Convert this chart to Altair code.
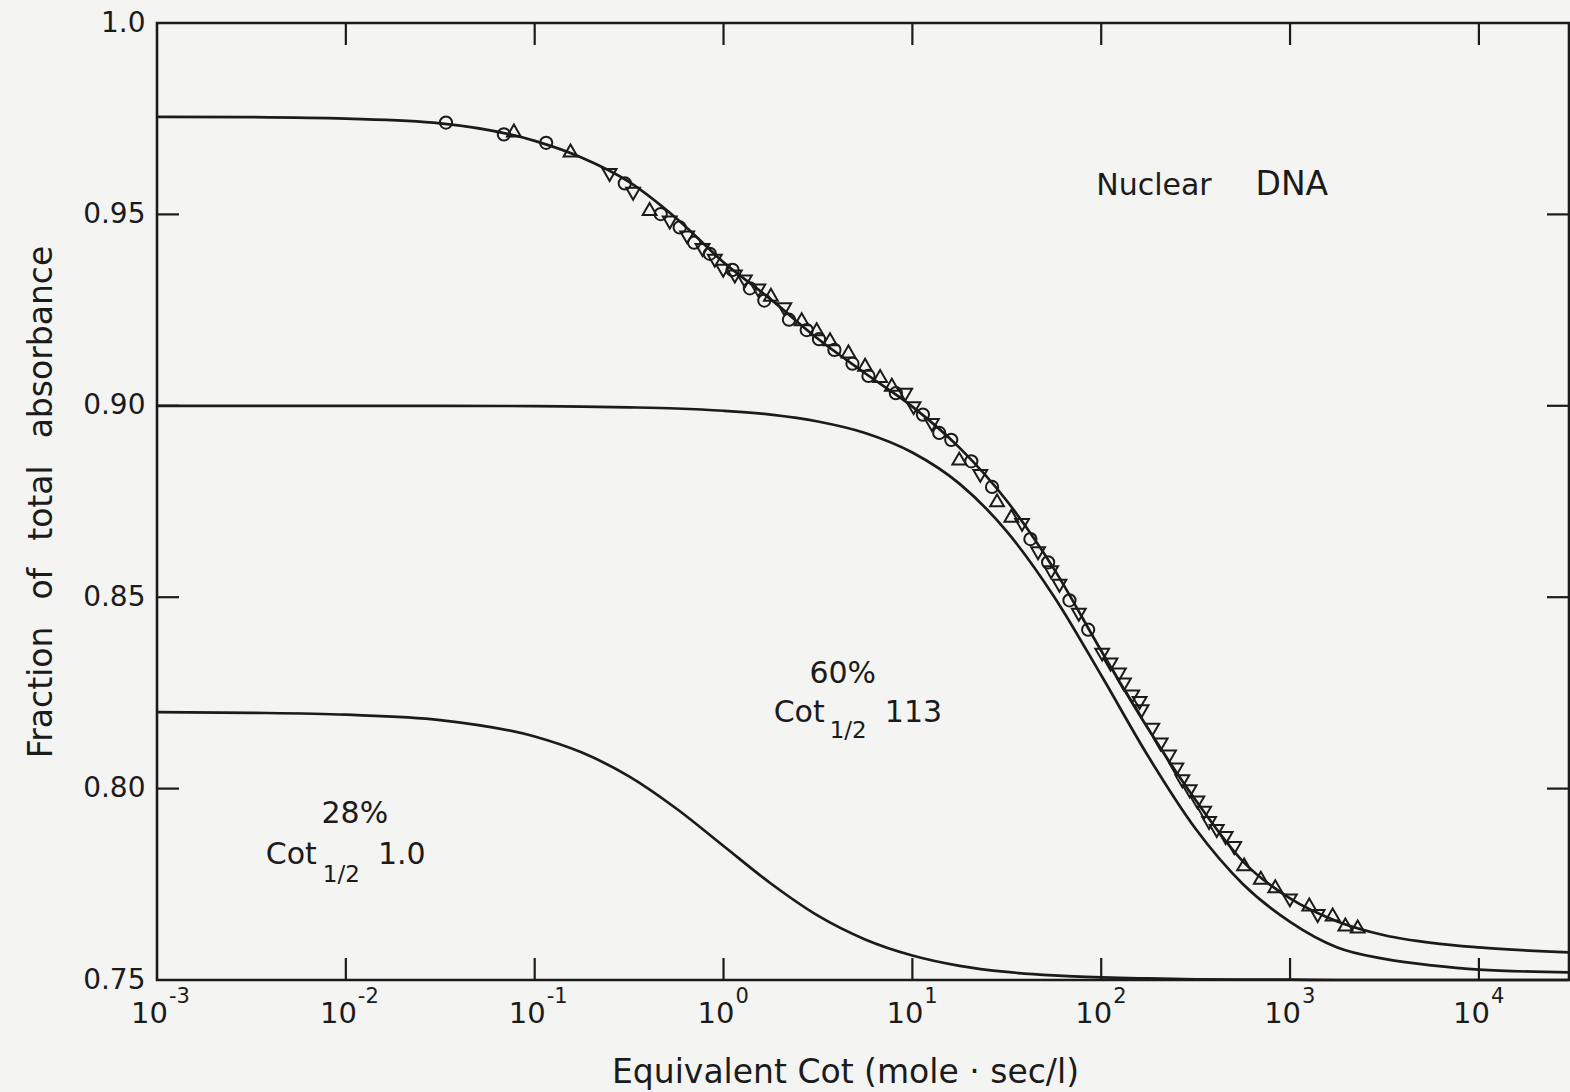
import altair as alt
import pandas as pd

# ---- reassociation curves, read at quarter-decade steps of equivalent Cot ----
cot_grid = [0.001, 0.00316, 0.01, 0.0316, 0.1, 0.178, 0.316, 0.562, 1.0, 1.78,
            3.16, 5.62, 10.0, 17.8, 31.6, 56.2, 100.0, 178.0, 316.0, 562.0,
            1000.0, 1780.0, 3160.0, 5620.0, 10000.0, 30000.0]
total_fit = [0.9755, 0.9754, 0.9750, 0.9738, 0.9692, 0.9648, 0.9585, 0.9490, 0.9375, 0.9278,
             0.9175, 0.9085, 0.8998, 0.8890, 0.8752, 0.8574, 0.8360, 0.8155, 0.7970, 0.7810,
             0.7713, 0.7653, 0.7617, 0.7597, 0.7585, 0.7572]
component_60 = [0.9000, 0.9000, 0.9000, 0.9000, 0.8999, 0.8998, 0.8996, 0.8993, 0.8987, 0.8977,
                0.8959, 0.8929, 0.8878, 0.8796, 0.8672, 0.8502, 0.8296, 0.8083, 0.7895, 0.7751,
                0.7652, 0.7585, 0.7555, 0.7538, 0.7527, 0.7520]
component_28 = [0.8200, 0.8198, 0.8193, 0.8179, 0.8136, 0.8094, 0.8032, 0.7948, 0.7850, 0.7752,
                0.7668, 0.7606, 0.7564, 0.7537, 0.7521, 0.7512, 0.7507, 0.7504, 0.7502, 0.7501,
                0.7501, 0.7500, 0.7500, 0.7500, 0.7500, 0.7500]

# ---- measured points ----
circle_cot = [0.0339, 0.0687, 0.115, 0.300, 0.465, 0.586, 0.699, 0.846, 1.116, 1.379,
              1.644, 2.221, 2.756, 3.203, 3.866, 4.817, 5.855, 8.176, 11.37, 13.88,
              16.06, 20.51, 26.42, 42.17, 52.34, 67.9, 85.3]
circle_frac = [0.9740, 0.9709, 0.9687, 0.9581, 0.9501, 0.9466, 0.9426, 0.9397, 0.9355, 0.9307,
               0.9275, 0.9225, 0.9198, 0.9174, 0.9146, 0.9110, 0.9078, 0.9033, 0.8977, 0.8929,
               0.8911, 0.8855, 0.8788, 0.8652, 0.8591, 0.8492, 0.8415]

up_cot = [0.0776, 0.1548, 0.406, 1.782, 2.593, 3.114, 3.664, 4.586, 5.618, 6.749,
          7.785, 17.71, 28.08, 33.43, 571, 700, 835, 1264, 1681, 1963, 2281]
up_frac = [0.9719, 0.9667, 0.9514, 0.9290, 0.9226, 0.9200, 0.9174, 0.9142, 0.9107, 0.9078,
           0.9055, 0.8862, 0.8753, 0.8713, 0.7802, 0.7767, 0.7745, 0.7697, 0.7671, 0.7645, 0.7640]

down_cot = [0.2493, 0.332, 0.519, 0.642, 0.774, 0.899, 0.996, 1.148, 1.297, 1.528,
            2.099, 9.16, 10.15, 12.69, 22.89, 38.1, 46.3, 54.3, 60.1, 76.1,
            101.2, 112.0, 124.1, 131.9, 146.0, 159.7, 163.6, 186.5, 206.4, 228.7,
            250, 269, 294, 323, 350.6, 372.7, 409, 456, 506, 998, 1400]
down_frac = [0.9603, 0.9554, 0.9479, 0.9440, 0.9407, 0.9379, 0.9353, 0.9338, 0.9325, 0.9301,
             0.9252, 0.9029, 0.8994, 0.8950, 0.8817, 0.8689, 0.8615, 0.8565, 0.8530, 0.8454,
             0.8350, 0.8324, 0.8298, 0.8272, 0.8241, 0.8224, 0.8202, 0.8154, 0.8115, 0.8084,
             0.8050, 0.8019, 0.7993, 0.7964, 0.7937, 0.7910, 0.7889, 0.7871, 0.7845, 0.7708, 0.7667]

# ---- axes ----
x_ticks = [0.001, 0.01, 0.1, 1, 10, 100, 1000, 10000]
x_tick_base = ["10"] * len(x_ticks)
x_tick_exp = ["-3", "-2", "-1", "0", "1", "2", "3", "4"]
y_ticks = [0.75, 0.80, 0.85, 0.90, 0.95, 1.0]
y_tick_labels = ["0.75", "0.80", "0.85", "0.90", "0.95", "1.0"]

# ---- annotations ----
ann_text = ["Nuclear", "DNA", "60%", "Cot", "1/2", "113", "28%", "Cot", "1/2", "1.0"]
ann_cot = [94.1, 656.0, 4.279, 3.435, 3.650, 7.147, 0.01116, 0.00702, 0.00755, 0.01478]
ann_frac = [0.9551, 0.9551, 0.8277, 0.8175, 0.8131, 0.8175, 0.7911, 0.7802, 0.7757, 0.7802]
ann_size = [30, 33, 30, 30, 23, 30, 30, 30, 23, 30]
ann_align = ["left", "left", "center", "right", "left", "left", "center", "right", "left", "left"]

W, H = 1412, 957
INK = "#1b1b1b"
FONT = "DejaVu Sans"
TICK = 22

x_scale = alt.Scale(type="log", domain=[0.001, 30000], nice=False)
y_scale = alt.Scale(domain=[0.75, 1.0], nice=False, zero=False)

curves = pd.DataFrame({
    "cot": cot_grid * 3,
    "frac": total_fit + component_60 + component_28,
    "curve": ["total"] * len(cot_grid) + ["60%"] * len(cot_grid) + ["28%"] * len(cot_grid),
})

y_label_expr = "[" + ",".join(f"'{s}'" for s in y_tick_labels) + "][round((datum.value - 0.75) * 20)]"

lines = alt.Chart(curves).mark_line(interpolate="monotone", strokeWidth=2.7, color=INK).encode(
    x=alt.X("cot:Q", scale=x_scale, axis=alt.Axis(
        values=x_ticks, labels=False,
        title="Equivalent Cot (mole \u00b7 sec/l)", titleFontSize=33,
        titleX=688, titleY=102, titleBaseline="alphabetic", titleAlign="center")),
    y=alt.Y("frac:Q", scale=y_scale, axis=alt.Axis(
        values=y_ticks, labelExpr=y_label_expr, labelFontSize=28, labelPadding=12,
        labelFlush=False, labelOverlap=False,
        title="Fraction\u2002 of\u2002 total\u2002 absorbance", titleFontSize=33,
        titleX=-106, titleY=H / 2, titleBaseline="alphabetic", titleAlign="center")),
    detail="curve:N",
)


def points(cots, fracs, shape, size):
    df = pd.DataFrame({"cot": cots, "frac": fracs})
    return alt.Chart(df).mark_point(shape=shape, filled=False, size=size,
                                    strokeWidth=2.0, color=INK, opacity=1).encode(
        x=alt.X("cot:Q", scale=x_scale), y=alt.Y("frac:Q", scale=y_scale))


circles = points(circle_cot, circle_frac, "circle", 150)
ups = points(up_cot, up_frac, "triangle-up", 190)
downs = points(down_cot, down_frac, "triangle-down", 190)

# inward tick marks on all four sides
xt = pd.DataFrame({"cot": x_ticks[1:]})
yt = pd.DataFrame({"frac": y_ticks[1:-1]})
rule = dict(strokeWidth=2.2, color=INK)
bottom_ticks = alt.Chart(xt).mark_rule(**rule).encode(
    x=alt.X("cot:Q", scale=x_scale), y=alt.value(H), y2=alt.value(H - TICK))
top_ticks = alt.Chart(xt).mark_rule(**rule).encode(
    x=alt.X("cot:Q", scale=x_scale), y=alt.value(0), y2=alt.value(TICK))
left_ticks = alt.Chart(yt).mark_rule(**rule).encode(
    y=alt.Y("frac:Q", scale=y_scale), x=alt.value(0), x2=alt.value(TICK))
right_ticks = alt.Chart(yt).mark_rule(**rule).encode(
    y=alt.Y("frac:Q", scale=y_scale), x=alt.value(W), x2=alt.value(W - TICK))

# decade labels: "10" with a raised exponent
xl = pd.DataFrame({"cot": x_ticks, "base": x_tick_base, "exp": x_tick_exp})
tick_base = alt.Chart(xl).mark_text(
    align="right", baseline="alphabetic", font=FONT, fontSize=29, color=INK, dx=11).encode(
    x=alt.X("cot:Q", scale=x_scale), y=alt.value(H + 43), text="base:N")
tick_exp = alt.Chart(xl).mark_text(
    align="left", baseline="alphabetic", font=FONT, fontSize=21, color=INK, dx=12).encode(
    x=alt.X("cot:Q", scale=x_scale), y=alt.value(H + 23), text="exp:N")

ann = pd.DataFrame({"cot": ann_cot, "frac": ann_frac, "text": ann_text,
                    "size": ann_size, "align": ann_align})
text_layers = []
for al in ["left", "center", "right"]:
    text_layers.append(
        alt.Chart(ann[ann["align"] == al]).mark_text(
            align=al, baseline="alphabetic", font=FONT, color=INK).encode(
            x=alt.X("cot:Q", scale=x_scale), y=alt.Y("frac:Q", scale=y_scale),
            text="text:N", size=alt.Size("size:Q", scale=None, legend=None)))

chart = alt.layer(
    lines, circles, ups, downs, bottom_ticks, top_ticks, left_ticks, right_ticks,
    tick_base, tick_exp, *text_layers
).properties(
    width=W, height=H,
    padding={"left": 157, "top": 23, "right": 1, "bottom": 112},
    autosize=alt.AutoSizeParams(type="none"),
).configure(background="#f4f4f2").configure_view(
    stroke=INK, strokeWidth=2.6
).configure_axis(
    grid=False, domain=False, ticks=False, tickSize=0,
    labelFont=FONT, titleFont=FONT, labelColor=INK, titleColor=INK,
    titleFontWeight="normal",
)

chart.save("out.html", embed_options={"renderer": "svg", "actions": False})
